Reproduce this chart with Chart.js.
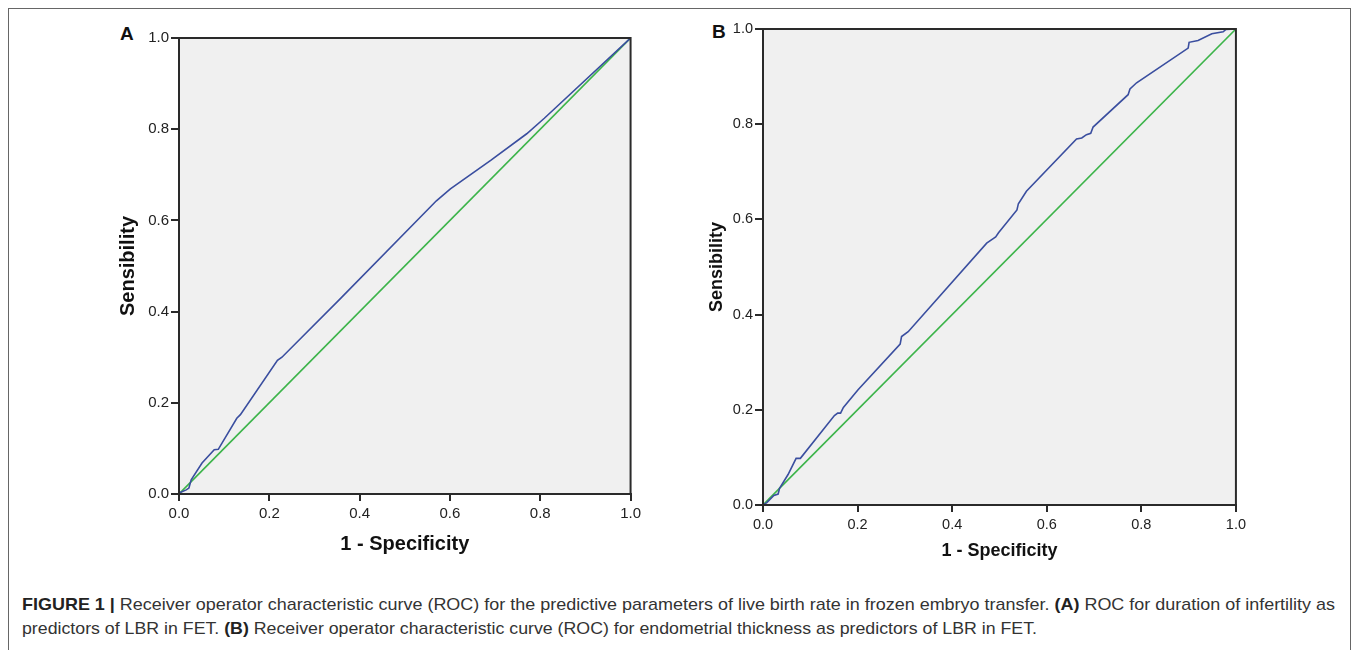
<!DOCTYPE html>
<html>
<head>
<meta charset="utf-8">
<script src="https://cdn.jsdelivr.net/npm/chart.js@4"></script>
<style>
  html, body { margin: 0; padding: 0; background: #fff; }
  body { width: 1357px; height: 650px; position: relative; overflow: hidden; font-family: "Liberation Sans", Arial, sans-serif; }
  #frame { position: absolute; left: 8px; top: 8px; width: 1343px; height: 660px; border: 1.5px solid #666; border-bottom: none; box-sizing: border-box; }
  .panel { position: absolute; }
  #wrapA { left: 100px; top: 20px; width: 545px; height: 545px; }
  #wrapB { left: 690px; top: 10px; width: 560px; height: 570px; }
  .tag { position: absolute; font: bold 19px "Liberation Sans", Arial, sans-serif; color: #111; }
  .caption { position: absolute; left: 22px; font-size: 17px; color: #333; white-space: nowrap; transform-origin: 0 0; }
  .caption b { color: #222; }
</style>
</head>
<body>
<div id="frame"></div>
<div class="tag" style="left:120px;top:23px">A</div>
<div class="tag" style="left:712px;top:21px">B</div>
<div class="panel" id="wrapA"><canvas id="chartA"></canvas></div>
<div class="panel" id="wrapB"><canvas id="chartB"></canvas></div>
<div class="caption" id="cap1" data-w="1313" style="top:595px"><b>FIGURE 1 |</b> Receiver operator characteristic curve (ROC) for the predictive parameters of live birth rate in frozen embryo transfer. <b>(A)</b> ROC for duration of infertility as</div>
<div class="caption" id="cap2" data-w="1015" style="top:619px">predictors of LBR in FET. <b>(B)</b> Receiver operator characteristic curve (ROC) for endometrial thickness as predictors of LBR in FET.</div>
<script>
// ROC curves

const tickValues = [0, 0.2, 0.4, 0.6, 0.8, 1.0];
const xTitle = '1 - Specificity';
const yTitle = 'Sensibility';

// A: duration of infertility
const rocAx = [0, 0.004, 0.016, 0.022, 0.027, 0.051, 0.078, 0.087, 0.128, 0.136, 0.218, 0.228, 0.353, 0.570, 0.601, 0.691, 0.770, 0.809, 1.0];
const rocAy = [0, 0.004, 0.009, 0.013, 0.031, 0.068, 0.097, 0.098, 0.166, 0.174, 0.293, 0.300, 0.424, 0.643, 0.669, 0.732, 0.790, 0.824, 1.0];

// B: endometrial thickness
const rocBx = [0, 0.008, 0.023, 0.032, 0.035, 0.053, 0.070, 0.079, 0.151, 0.158, 0.164, 0.170, 0.201, 0.290, 0.293, 0.307, 0.473, 0.486, 0.492, 0.498, 0.537, 0.540, 0.557, 0.663, 0.674, 0.684, 0.693, 0.698, 0.772, 0.776, 0.790, 0.899, 0.901, 0.920, 0.949, 0.973, 0.979, 1.0];
const rocBy = [0, 0.005, 0.020, 0.023, 0.035, 0.064, 0.098, 0.098, 0.188, 0.193, 0.193, 0.205, 0.242, 0.338, 0.354, 0.364, 0.550, 0.559, 0.563, 0.572, 0.620, 0.633, 0.659, 0.769, 0.771, 0.778, 0.781, 0.794, 0.862, 0.874, 0.887, 0.960, 0.972, 0.976, 0.990, 0.994, 0.999, 1.0];

// reference diagonal
const diagX = [0, 1];
const diagY = [0, 1];

const toPoints = (xs, ys) => xs.map((x, i) => ({ x, y: ys[i] }));

// grey plot background + closed frame
const plotBox = {
  id: 'plotBox',
  beforeDraw(chart) {
    const { ctx, chartArea: a } = chart;
    ctx.save();
    ctx.fillStyle = '#f0f0f0';
    ctx.fillRect(a.left, a.top, a.right - a.left, a.bottom - a.top);
    ctx.restore();
  },
  afterDraw(chart) {
    const { ctx, chartArea: a } = chart;
    ctx.save();
    ctx.strokeStyle = '#2a2a2a';
    ctx.lineWidth = 2;
    ctx.strokeRect(a.left, a.top, a.right - a.left, a.bottom - a.top);
    ctx.restore();
  }
};

function makeChart(id, xs, ys, o) {
  const axis = (title, isX) => ({
    type: 'linear',
    min: 0, max: 1,
    afterBuildTicks: s => { s.ticks = tickValues.map(v => ({ value: v })); },
    afterFit: s => { if (isX) s.height = o.xH; else s.width = o.yW; },
    ticks: {
      color: '#222',
      font: { family: 'Liberation Sans', size: o.tick },
      padding: isX ? 4 : 2,
      maxRotation: 0,
      callback: v => v.toFixed(1)
    },
    grid: { drawOnChartArea: false, drawTicks: true, tickLength: isX ? 7 : 8, color: '#2a2a2a', lineWidth: 2 },
    border: { display: true, color: '#2a2a2a', width: 2 },
    title: {
      display: true, text: title, color: '#111',
      font: { family: 'Liberation Sans', weight: 'bold', size: isX ? o.xT : o.yT, lineHeight: 1 },
      padding: isX ? { top: 0, bottom: o.xTpad } : { top: o.yTpad, bottom: 0 }
    }
  });

  return new Chart(document.getElementById(id), {
    type: 'scatter',
    data: {
      datasets: [
        { data: toPoints(xs, ys), showLine: true, borderColor: '#3a4e9f', borderWidth: 1.6, pointRadius: 0, tension: 0 },
        { data: toPoints(diagX, diagY), showLine: true, borderColor: '#3cb44a', borderWidth: 1.6, pointRadius: 0 }
      ]
    },
    options: {
      responsive: true,
      maintainAspectRatio: false,
      animation: false,
      events: [],
      layout: { padding: { left: 0, top: o.padTop, right: o.padRight, bottom: 0 } },
      plugins: { legend: { display: false }, tooltip: { enabled: false } },
      scales: { x: axis(xTitle, true), y: axis(yTitle, false) }
    },
    plugins: [plotBox]
  });
}

makeChart('chartA', rocAx, rocAy, { padTop: 18, padRight: 13, yW: 79, xH: 71, tick: 15, xT: 20, yT: 20, xTpad: 11, yTpad: 18 });
makeChart('chartB', rocBx, rocBy, { padTop: 19, padRight: 14, yW: 73, xH: 75, tick: 14.5, xT: 18, yT: 18, xTpad: 20, yTpad: 18 });

// squeeze caption lines to the measured widths
document.querySelectorAll('.caption').forEach(el => {
  const w = el.getBoundingClientRect().width;
  el.style.transform = `scaleX(${(+el.dataset.w / w).toFixed(4)})`;
});
</script>
</body>
</html>
